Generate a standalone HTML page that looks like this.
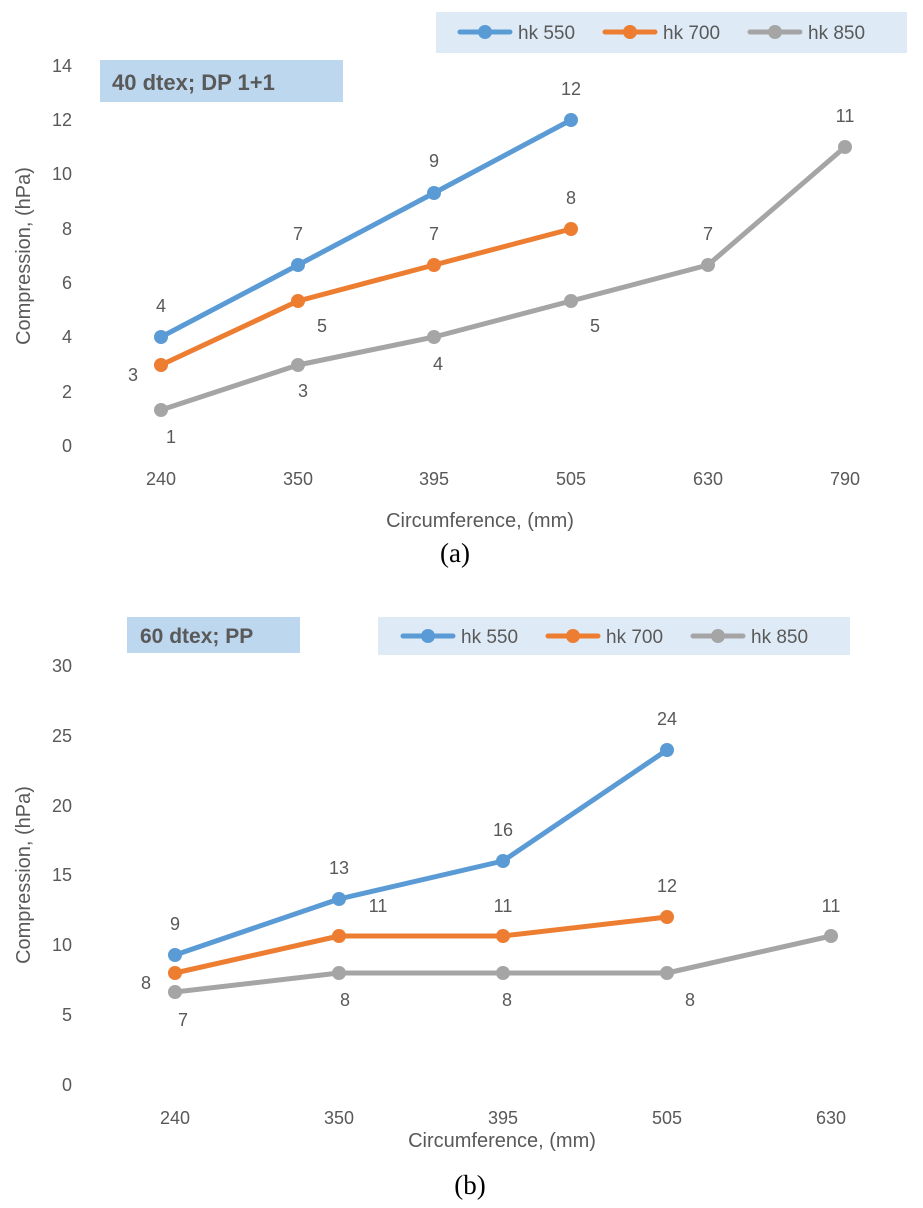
<!DOCTYPE html>
<html><head><meta charset="utf-8"><style>
body{margin:0;background:#fff;}
svg text{font-family:"Liberation Sans",sans-serif;fill:#595959;}
</style></head><body>
<svg width="923" height="1203" viewBox="0 0 923 1203" xmlns="http://www.w3.org/2000/svg">
<rect width="923" height="1203" fill="#fff"/>
<!-- Chart A -->
<rect x="100" y="60" width="243" height="42" fill="#BDD7EE"/>
<text x="112" y="90" font-size="22" font-weight="bold">40  dtex; DP 1+1</text>
<rect x="436" y="12" width="471" height="41" fill="#DEEBF7"/>
<g stroke-width="5" stroke-linecap="round">
<line x1="460" y1="32" x2="510" y2="32" stroke="#5B9BD5"/><circle cx="485" cy="32" r="7" fill="#5B9BD5"/>
<line x1="605" y1="32" x2="655" y2="32" stroke="#ED7D31"/><circle cx="630" cy="32" r="7" fill="#ED7D31"/>
<line x1="750" y1="32" x2="800" y2="32" stroke="#A5A5A5"/><circle cx="775" cy="32" r="7" fill="#A5A5A5"/>
</g>
<text x="518" y="39" font-size="19">hk 550</text>
<text x="663" y="39" font-size="19">hk 700</text>
<text x="808" y="39" font-size="19">hk 850</text>
<g font-size="18" text-anchor="end">
<text x="72" y="452">0</text><text x="72" y="398">2</text><text x="72" y="343">4</text><text x="72" y="289">6</text><text x="72" y="235">8</text><text x="72" y="180">10</text><text x="72" y="126">12</text><text x="72" y="72">14</text>
</g>
<g font-size="18" text-anchor="middle">
<text x="161" y="485">240</text><text x="298" y="485">350</text><text x="434" y="485">395</text><text x="571" y="485">505</text><text x="708" y="485">630</text><text x="845" y="485">790</text>
</g>
<text x="480" y="527" font-size="20" text-anchor="middle">Circumference, (mm)</text>
<text transform="translate(30,256) rotate(-90)" font-size="20" text-anchor="middle">Compression,  (hPa)</text>
<text x="455" y="562" font-size="27" text-anchor="middle" style="font-family:'Liberation Serif',serif;fill:#000">(a)</text>
<g fill="none" stroke-width="5" stroke-linejoin="round">
<polyline points="161,410 298,365 434,337 571,301 708,265 845,147" stroke="#A5A5A5"/>
<polyline points="161,365 298,301 434,265 571,229" stroke="#ED7D31"/>
<polyline points="161,337 298,265 434,193 571,120" stroke="#5B9BD5"/>
</g>
<g fill="#A5A5A5"><circle cx="161" cy="410" r="7"/><circle cx="298" cy="365" r="7"/><circle cx="434" cy="337" r="7"/><circle cx="571" cy="301" r="7"/><circle cx="708" cy="265" r="7"/><circle cx="845" cy="147" r="7"/></g>
<g fill="#ED7D31"><circle cx="161" cy="365" r="7"/><circle cx="298" cy="301" r="7"/><circle cx="434" cy="265" r="7"/><circle cx="571" cy="229" r="7"/></g>
<g fill="#5B9BD5"><circle cx="161" cy="337" r="7"/><circle cx="298" cy="265" r="7"/><circle cx="434" cy="193" r="7"/><circle cx="571" cy="120" r="7"/></g>
<g font-size="18" text-anchor="middle">
<text x="161" y="312">4</text><text x="298" y="240">7</text><text x="434" y="167">9</text><text x="571" y="95">12</text>
<text x="133" y="381">3</text><text x="322" y="332">5</text><text x="434" y="240">7</text><text x="571" y="204">8</text>
<text x="171" y="443">1</text><text x="303" y="397">3</text><text x="438" y="370">4</text><text x="595" y="332">5</text><text x="708" y="240">7</text><text x="845" y="122">11</text>
</g>
<!-- Chart B -->
<rect x="127" y="617" width="173" height="36" fill="#BDD7EE"/>
<text x="140" y="643" font-size="21" font-weight="bold">60 dtex; PP</text>
<rect x="378" y="617" width="472" height="38" fill="#DEEBF7"/>
<g stroke-width="5" stroke-linecap="round">
<line x1="403" y1="636" x2="453" y2="636" stroke="#5B9BD5"/><circle cx="428" cy="636" r="7" fill="#5B9BD5"/>
<line x1="548" y1="636" x2="598" y2="636" stroke="#ED7D31"/><circle cx="573" cy="636" r="7" fill="#ED7D31"/>
<line x1="693" y1="636" x2="743" y2="636" stroke="#A5A5A5"/><circle cx="718" cy="636" r="7" fill="#A5A5A5"/>
</g>
<text x="461" y="643" font-size="19">hk 550</text>
<text x="606" y="643" font-size="19">hk 700</text>
<text x="751" y="643" font-size="19">hk 850</text>
<g font-size="18" text-anchor="end">
<text x="72" y="1091">0</text><text x="72" y="1021">5</text><text x="72" y="951">10</text><text x="72" y="881">15</text><text x="72" y="812">20</text><text x="72" y="742">25</text><text x="72" y="672">30</text>
</g>
<g font-size="18" text-anchor="middle">
<text x="175" y="1124">240</text><text x="339" y="1124">350</text><text x="503" y="1124">395</text><text x="667" y="1124">505</text><text x="831" y="1124">630</text>
</g>
<text x="502" y="1147" font-size="20" text-anchor="middle">Circumference, (mm)</text>
<text transform="translate(30,875) rotate(-90)" font-size="20" text-anchor="middle">Compression,  (hPa)</text>
<text x="470" y="1194" font-size="27" text-anchor="middle" style="font-family:'Liberation Serif',serif;fill:#000">(b)</text>
<g fill="none" stroke-width="5" stroke-linejoin="round">
<polyline points="175,992 339,973 503,973 667,973 831,936" stroke="#A5A5A5"/>
<polyline points="175,973 339,936 503,936 667,917" stroke="#ED7D31"/>
<polyline points="175,955 339,899 503,861 667,750" stroke="#5B9BD5"/>
</g>
<g fill="#A5A5A5"><circle cx="175" cy="992" r="7"/><circle cx="339" cy="973" r="7"/><circle cx="503" cy="973" r="7"/><circle cx="667" cy="973" r="7"/><circle cx="831" cy="936" r="7"/></g>
<g fill="#ED7D31"><circle cx="175" cy="973" r="7"/><circle cx="339" cy="936" r="7"/><circle cx="503" cy="936" r="7"/><circle cx="667" cy="917" r="7"/></g>
<g fill="#5B9BD5"><circle cx="175" cy="955" r="7"/><circle cx="339" cy="899" r="7"/><circle cx="503" cy="861" r="7"/><circle cx="667" cy="750" r="7"/></g>
<g font-size="18" text-anchor="middle">
<text x="175" y="930">9</text><text x="339" y="874">13</text><text x="503" y="836">16</text><text x="667" y="725">24</text>
<text x="146" y="989">8</text><text x="378" y="912">11</text><text x="503" y="912">11</text><text x="667" y="892">12</text>
<text x="183" y="1026">7</text><text x="345" y="1006">8</text><text x="507" y="1006">8</text><text x="690" y="1006">8</text><text x="831" y="912">11</text>
</g>
</svg>
</body></html>
